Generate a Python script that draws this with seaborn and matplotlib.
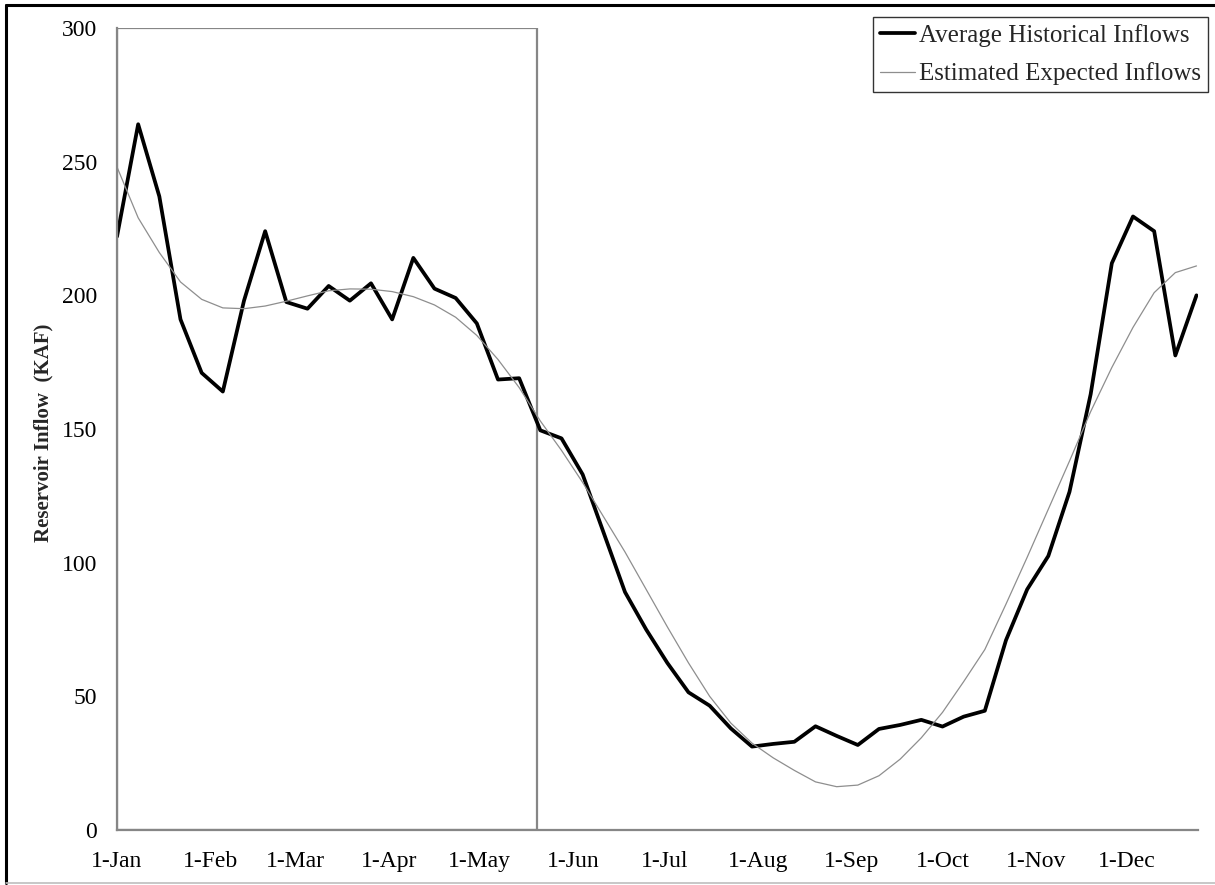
import numpy as np
import pandas as pd
import matplotlib
matplotlib.use("Agg")
import matplotlib.pyplot as plt
import matplotlib.dates as mdates
from matplotlib.patches import Rectangle
from matplotlib.lines import Line2D
import seaborn as sns

# Weekly reservoir inflow (KAF), one value per week starting 1-Jan
historical_inflow = [
    222, 264, 237, 191, 171, 164, 198, 224, 197.5, 195,
    203.5, 198, 204.5, 191, 214, 202.5, 199, 189.5, 168.5, 169,
    149.5, 146.5, 133, 111, 89, 75, 62.5, 51.5, 46.5, 38,
    31.2, 32.2, 33, 38.8, 35.2, 31.8, 37.8, 39.3, 41.2, 38.7,
    42.4, 44.6, 71, 90, 102.5, 126.5, 163, 212, 229.5, 224,
    177.5, 200,
]
expected_inflow = [
    248, 229, 216, 205, 198.5, 195.3, 195, 196, 197.8, 199.8,
    201.7, 202.4, 202.3, 201.4, 199.5, 196.4, 191.8, 185, 176, 165.5,
    153, 142, 130, 117, 104, 90, 76, 62.5, 50, 40,
    32.5, 27, 22.3, 18, 16.2, 16.8, 20.3, 26.5, 34.5, 44,
    55.5, 67.5, 84.5, 102, 120, 138, 156.5, 173, 188, 201,
    208.5, 211,
]
week_start = pd.date_range("2011-01-01", periods=len(historical_inflow), freq="7D")
highlight_start, highlight_end = "2011-01-01", "2011-05-20"

series_labels = ["Average Historical Inflows", "Estimated Expected Inflows"]
y_label = "Reservoir Inflow  (KAF)"
y_ticks = [0, 50, 100, 150, 200, 250, 300]

df = pd.DataFrame({"week": week_start,
                   "historical": historical_inflow,
                   "expected": expected_inflow})

sns.set_theme(style="white")
plt.rcParams["font.family"] = ["Liberation Serif", "DejaVu Serif"]

fig = plt.figure(figsize=(12.15, 8.85), dpi=100)
ax = fig.add_axes([117 / 1215, 1 - 830 / 885, (1198 - 117) / 1215, (830 - 28) / 885])

sns.lineplot(data=df, x="week", y="historical", ax=ax, color="black",
             linewidth=2.7, label=series_labels[0])
sns.lineplot(data=df, x="week", y="expected", ax=ax, color="#8e8e8e",
             linewidth=0.9, label=series_labels[1])

# Outline box over the winter/spring period
x0 = mdates.date2num(pd.Timestamp(highlight_start))
x1 = mdates.date2num(pd.Timestamp(highlight_end))
ax.add_patch(Rectangle((x0, 0), x1 - x0, 300, fill=False,
                       edgecolor="#868686", linewidth=1.6, zorder=1))

ax.set_xlim(mdates.date2num(week_start[0]), mdates.date2num(week_start[-1]) + 0.5)
ax.set_ylim(0, 300)
ax.set_yticks(y_ticks)
ax.xaxis.set_major_locator(mdates.MonthLocator())
ax.xaxis.set_major_formatter(mdates.DateFormatter("%-d-%b"))

for side in ["top", "right"]:
    ax.spines[side].set_visible(False)
for side in ["left", "bottom"]:
    ax.spines[side].set_color("#868686")
    ax.spines[side].set_linewidth(1.6)

ax.tick_params(axis="both", direction="in", length=6, width=1, color="#868686",
               labelsize=17, labelcolor="black")
ax.tick_params(axis="x", pad=15)
ax.tick_params(axis="y", pad=14.5)
ax.set_xlabel("")
ax.set_ylabel(y_label, fontsize=15, fontweight="bold")
ax.yaxis.set_label_coords(-0.0585, 0.495)

leg = ax.legend(loc="upper right", bbox_to_anchor=(1208 / 1215, 1 - 17 / 885),
                bbox_transform=fig.transFigure, borderaxespad=0, fontsize=18,
                frameon=True, fancybox=False, edgecolor="black",
                handlelength=1.4, handletextpad=0.15, labelspacing=0.62,
                borderpad=0.28)
leg.get_frame().set_linewidth(1.0)

# Outer frame lines around the figure
fig.add_artist(Line2D([6 / 1215, 1], [1 - 5 / 885] * 2, color="black", linewidth=2.2,
                      transform=fig.transFigure))
fig.add_artist(Line2D([6 / 1215] * 2, [1 - 5 / 885, 2 / 885], color="black",
                      linewidth=2.2, transform=fig.transFigure))
fig.add_artist(Line2D([6 / 1215, 1], [2 / 885] * 2, color="#bdbdbd", linewidth=1.2,
                      transform=fig.transFigure))

fig.savefig("out.png", dpi=100)
